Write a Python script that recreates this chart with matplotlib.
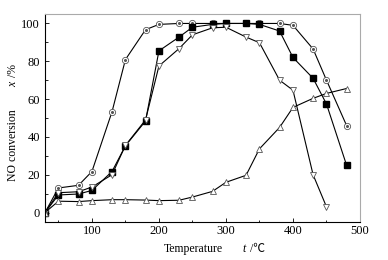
import numpy as np
import matplotlib.pyplot as plt
import matplotlib as mpl
from matplotlib.ticker import MultipleLocator

mpl.rcParams['font.family'] = ['Liberation Serif', 'Noto Sans CJK SC', 'DejaVu Sans']
mpl.rcParams['font.size'] = 9

temp = [30, 50, 80, 100, 130, 150, 180, 200, 230, 250, 280, 300, 330, 350, 380, 400, 430, 450, 480]
conv_circle = [0, 13, 14.4, 21.7, 53.3, 80.9, 96.7, 99.5, 100, 100, 100, 100, 100, 100, 100, 99, 86.5, 70, 46]
conv_square = [0, 9.3, 9.8, 11.7, 21.7, 35.3, 48.4, 85.5, 92.8, 98, 99.5, 100, 100, 99.5, 96, 82, 71, 57.4, 25]
temp_down = temp[:-1]
conv_down = [0, 10.5, 11, 13.5, 20, 35.5, 49, 77.5, 86.7, 94, 97.7, 98, 92.8, 89.8, 70, 64.7, 20, 3]
conv_up = [0, 6, 5.8, 6.3, 6.8, 6.8, 6.6, 6.3, 6.5, 8.2, 11.2, 16, 19.7, 33.7, 45, 55.6, 60.4, 63, 65.6]

W, H = 388, 260
fig = plt.figure(figsize=(W / 100, H / 100), dpi=100)
ax = fig.add_axes([45 / W, 1 - 222 / H, 315 / W, 208 / H])

lw = 0.8
ax.plot(temp, conv_circle, '-o', color='black', lw=lw, ms=4.5, mfc='white', mec='#555555', mew=0.6)
ax.plot(temp, conv_circle, 'o', color='#555555', ms=1.2, ls='none')
ax.plot(temp, conv_square, '-s', color='black', lw=lw, ms=4.3, mfc='black', mec='black')
ax.plot(temp_down, conv_down, '-v', color='black', lw=lw, ms=5, mfc='white', mec='#555555', mew=0.6)
ax.plot(temp, conv_up, '-^', color='black', lw=lw, ms=5, mfc='white', mec='#555555', mew=0.6)

ax.set_xlim(30, 500)
ax.set_ylim(-5, 105)
ax.xaxis.set_major_locator(MultipleLocator(100))
ax.xaxis.set_minor_locator(MultipleLocator(50))
ax.yaxis.set_major_locator(MultipleLocator(20))
ax.yaxis.set_minor_locator(MultipleLocator(10))
ax.tick_params(which='both', direction='in', top=False, right=False, width=0.6)
ax.tick_params(axis='x', pad=2.5)
ax.tick_params(axis='y', pad=3.5)
ax.tick_params(which='major', length=3)
ax.tick_params(which='minor', length=1.8)

for s in ['top', 'right']:
    ax.spines[s].set_color('#aaaaaa')
for s in ax.spines.values():
    s.set_linewidth(0.8)

# axis labels placed piecewise (italic symbol + unit)
fs = 8.5
fig.text(193 / W, 1 - 249 / H, 'Temperature', ha='center', va='center', fontsize=fs)
fig.text(242 / W, 1 - 249 / H, 't', ha='left', va='center', fontsize=fs, style='italic')
fig.text(247 / W, 1 - 249 / H, ' /℃', ha='left', va='center', fontsize=fs)
fig.text(13 / W, 1 - 145 / H, 'NO conversion', ha='center', va='center', rotation=90, fontsize=fs)
fig.text(13 / W, 1 - 84 / H, 'x', ha='center', va='center', rotation=90, fontsize=fs, style='italic')
fig.text(13 / W, 1 - 80 / H, ' /%', ha='center', va='bottom', rotation=90, fontsize=fs)

plt.savefig('out.png', dpi=100)
